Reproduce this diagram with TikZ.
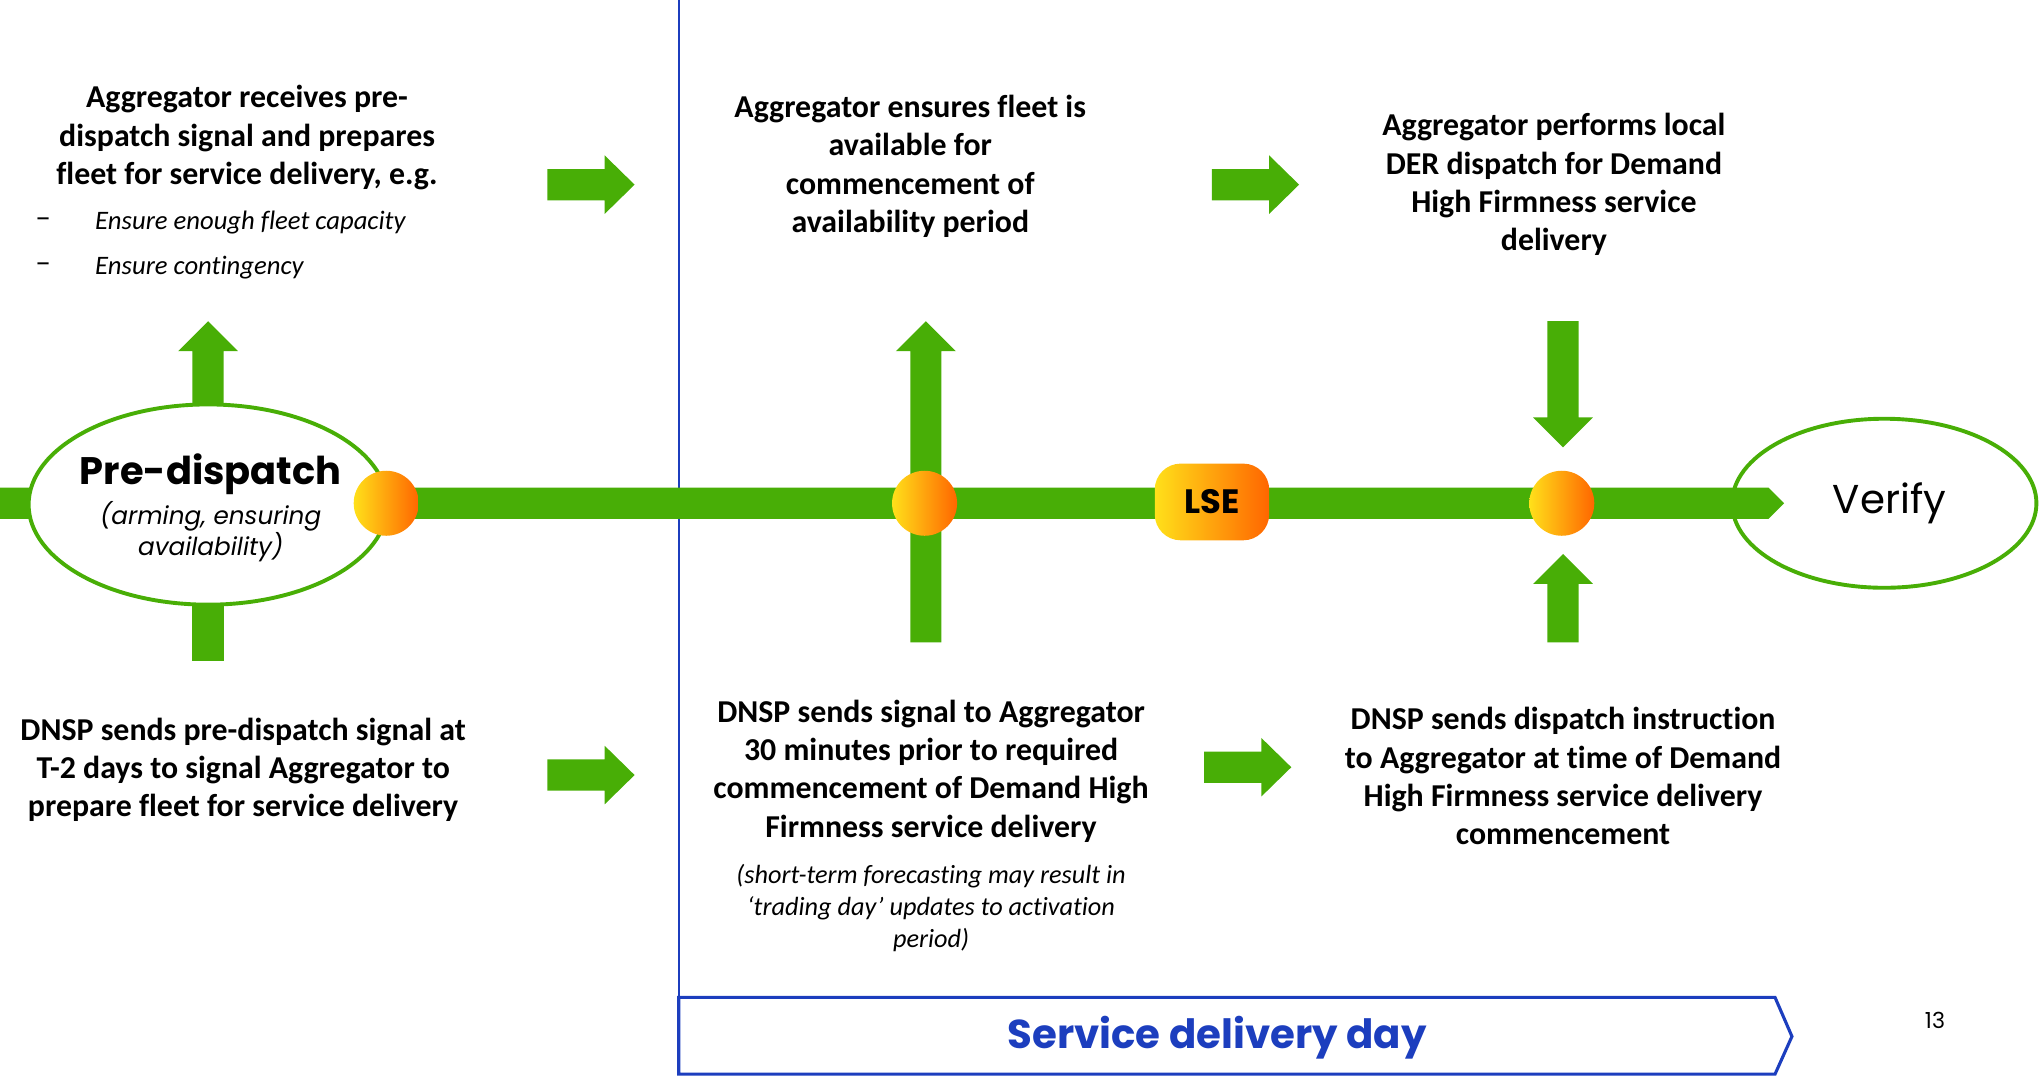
\documentclass[tikz,border=0pt]{standalone}
\usepackage{fontspec}
\setmainfont{Carlito}[Ligatures=NoCommon]
\newfontfamily\gothic{Poppins}
\usetikzlibrary{shapes.geometric,calc}

\definecolor{flowgreen}{RGB}{72,174,6}
\definecolor{dayblue}{RGB}{28,62,190}
\definecolor{ballyellow}{RGB}{255,224,26}
\definecolor{ballorange}{RGB}{255,102,0}

\tikzset{
  ball/.style={circle, minimum size=50pt, inner sep=0pt, draw=none,
    left color=ballyellow, right color=ballorange},
  stagering/.style={ellipse, draw=flowgreen, line width=3pt, inner sep=0pt},
  stepcaption/.style={align=center, inner sep=0pt,
    font=\bfseries\fontsize{24.5}{29.5}\selectfont},
  notetext/.style={align=center, inner sep=0pt,
    font=\itshape\fontsize{20.2}{24.5}\selectfont},
  bullettext/.style={inner sep=0pt, anchor=west,
    font=\itshape\fontsize{20.5}{24}\selectfont},
  bulletdash/.style={inner sep=0pt, anchor=west,
    font=\fontsize{24}{24}\selectfont},
  pics/rightarrow/.style={code={
    \fill[flowgreen] (-33.5,-12) -- (10.5,-12) -- (10.5,-22.5) -- (33.5,0)
      -- (10.5,22.5) -- (10.5,12) -- (-33.5,12) -- cycle;}},
}

% thick green shaft from #1 to an arrowhead whose point is at #2
\newcommand\fatvert[2]{%
  \fill[flowgreen] let \p1=(#1), \p2=(#2), \n1={sign(\y2-\y1)} in
    (\x2-12pt,\y1) -- (\x2-12pt,\y2-\n1*23pt) -- (\x2-23pt,\y2-\n1*23pt)
    -- (\x2,\y2) -- (\x2+23pt,\y2-\n1*23pt) -- (\x2+12pt,\y2-\n1*23pt)
    -- (\x2+12pt,\y1) -- cycle;}

\begin{document}
\begin{tikzpicture}[x=1pt,y=-1pt]
\useasboundingbox (0,0) rectangle (1568,828);

% anchor points of the timeline
\coordinate (barL) at (0,387);
\coordinate (barR) at (1372,387);
\coordinate (prec) at (160,388);
\coordinate (pretip) at (160,247);
\coordinate (prefoot) at (160,508);
\coordinate (b2foot) at (712,494);
\coordinate (b2tip) at (712,247);
\coordinate (b3top) at (1202,247);
\coordinate (b3downtip) at (1202,344);
\coordinate (b3foot) at (1202,494);
\coordinate (b3uptip) at (1202,426);

% service-day divider
\coordinate (daytop) at (522,0);
\coordinate (daybot) at (522,767);
\draw[dayblue, line width=1.2pt] (daytop) -- (daybot);

% main timeline bar with pointed end
\fill[flowgreen] let \p1=(barL), \p2=(barR) in
  (\x1,\y1+12pt) -- (\x2-12pt,\y2+12pt) -- (\x2,\y2)
  -- (\x2-12pt,\y2-12pt) -- (\x1,\y1-12pt) -- cycle;

% vertical branches
\fatvert{prec}{pretip}
\draw[flowgreen, line width=24pt] (prec) -- (prefoot);
\fatvert{b2foot}{b2tip}
\fatvert{b3top}{b3downtip}
\fatvert{b3foot}{b3uptip}

% stages on the timeline
\node[stagering, fill=white, minimum width=276pt, minimum height=154pt] (pre) at (prec) {};
\node[font=\gothic\bfseries\fontsize{29.5}{32}\selectfont, inner sep=0pt] (pretitle) at (162,365) {Pre-dispatch};
\node[font=\gothic\itshape\fontsize{19}{24}\selectfont, align=center, inner sep=0pt] (presub) at (162,409) {(arming, ensuring\\availability)};

\node[ball] (b1) at (297,387) {};
\node[ball] (b2) at (711,387) {};
\node[ball] (b3) at (1201,387) {};
\node[rounded corners=20pt, minimum width=88pt, minimum height=59pt, inner sep=0pt,
      left color=ballyellow, right color=ballorange,
      font=\gothic\bfseries\fontsize{26}{28}\selectfont] (lse) at (932,386) {LSE};

\node[stagering, minimum width=234pt, minimum height=130pt] (verify) at (1449,387) {};
\node[font=\gothic\fontsize{31}{34}\selectfont, inner sep=0pt] (verifylabel) at (1453,387) {Verify};

% step arrows between columns
\pic at (454.5,142) {rightarrow};
\pic at (965.5,142) {rightarrow};
\pic at (454.5,596) {rightarrow};
\pic at (959.5,590) {rightarrow};

% upper captions
\node[stepcaption] (t1) at (190,106) {Aggregator receives pre-\\dispatch signal and prepares\\fleet for service delivery, e.g.};
\node[bulletdash] (d1) at (27,171) {–};
\node[bullettext] (e1) at (73,171) {Ensure enough fleet capacity};
\node[bulletdash] (d2) at (27,206) {–};
\node[bullettext] (e2) at (73,206) {Ensure contingency};

\node[stepcaption] (t2) at (700,128) {Aggregator ensures fleet is\\available for\\commencement of\\availability period};
\node[stepcaption] (t3) at (1195,142) {Aggregator performs local\\DER dispatch for Demand\\High Firmness service\\delivery};

% lower captions
\node[stepcaption] (u1) at (187,592) {DNSP sends pre-dispatch signal at\\T-2 days to signal Aggregator to\\prepare fleet for service delivery};
\node[stepcaption] (u2) at (716,593) {DNSP sends signal to Aggregator\\30 minutes prior to required\\commencement of Demand High\\Firmness service delivery};
\node[notetext] (u2note) at (716,698) {(short-term forecasting may result in\\‘trading day’ updates to activation\\period)};
\node[stepcaption] (u3) at (1202,597) {DNSP sends dispatch instruction\\to Aggregator at time of Demand\\High Firmness service delivery\\commencement};

% service delivery day banner
\coordinate (bnA) at (522,767);
\coordinate (bnB) at (1365,767);
\coordinate (bnC) at (1378,797);
\coordinate (bnD) at (1365,826);
\coordinate (bnE) at (522,826);
\draw[dayblue, line width=2.4pt, line join=miter] (bnA) -- (bnB) -- (bnC) -- (bnD) -- (bnE) -- cycle;
\node[font=\gothic\bfseries\fontsize{31}{34}\selectfont, text=dayblue, inner sep=0pt] (daylabel) at (936,798) {Service delivery day};

\node[font=\gothic\fontsize{17}{20}\selectfont, inner sep=0pt] (pageno) at (1488,785) {13};
\end{tikzpicture}
\end{document}
